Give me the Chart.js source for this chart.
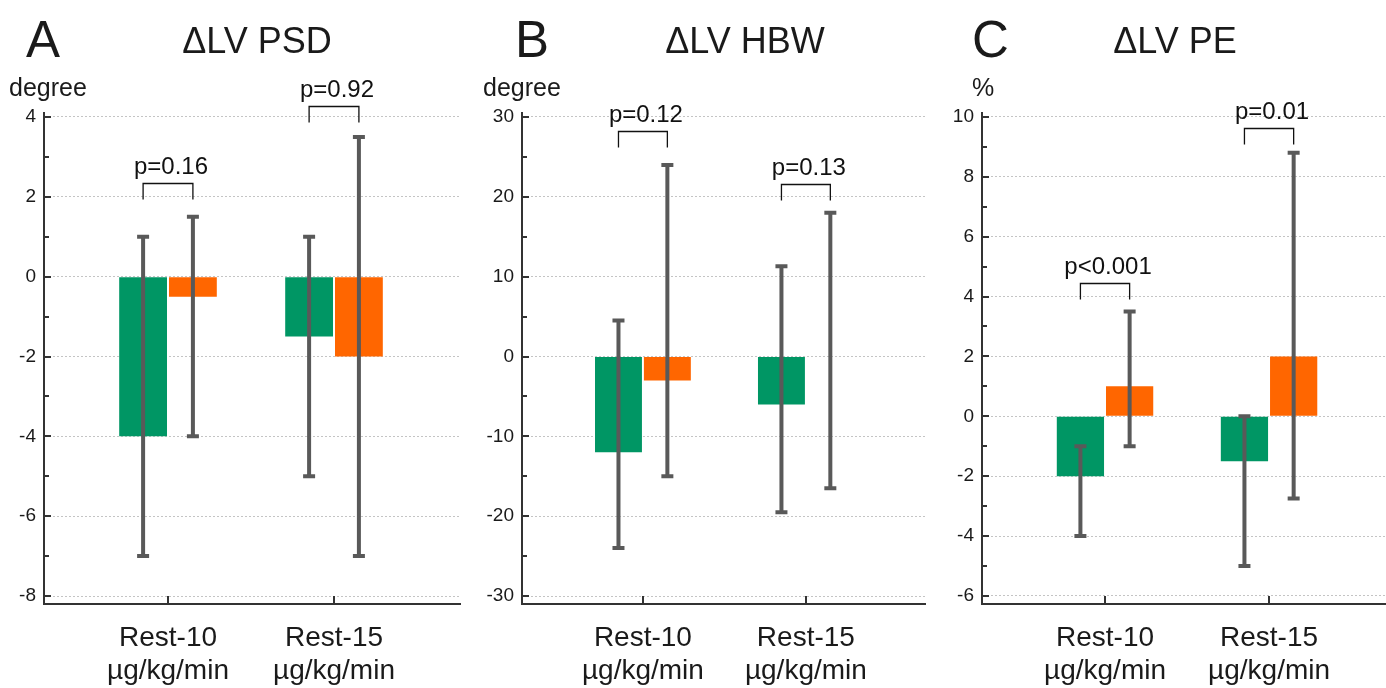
<!DOCTYPE html>
<html>
<head>
<meta charset="utf-8">
<script src="https://cdn.jsdelivr.net/npm/chart.js@4"></script>
<style>
  body { margin: 0; background: #fff; }
  canvas { position: absolute; top: 0; }
</style>
</head>
<body>
<canvas id="psd" width="462" height="688" style="left:0px"></canvas>
<canvas id="hbw" width="464" height="688" style="left:462px"></canvas>
<canvas id="pe" width="460" height="688" style="left:926px"></canvas>
<script>
// categories (two lines per label)
const categories = [['Rest-10', 'µg/kg/min'], ['Rest-15', 'µg/kg/min']];

// ΔLV PSD (degree)
const psdGreen = [-4, -1.5];
const psdGreenLow = [-7, -5];
const psdGreenHigh = [1, 1];
const psdOrange = [-0.5, -2];
const psdOrangeLow = [-4, -7];
const psdOrangeHigh = [1.5, 3.5];
const psdTicks = [-8, -6, -4, -2, 0, 2, 4];
const psdBrackets = [2.35, 4.28];
const psdP = ['p=0.16', 'p=0.92'];

// ΔLV HBW (degree)
const hbwGreen = [-12, -6];
const hbwGreenLow = [-24, -19.5];
const hbwGreenHigh = [4.5, 11.3];
const hbwOrange = [-3, 0];
const hbwOrangeLow = [-15, -16.5];
const hbwOrangeHigh = [24, 18];
const hbwTicks = [-30, -20, -10, 0, 10, 20, 30];
const hbwBrackets = [28.2, 21.6];
const hbwP = ['p=0.12', 'p=0.13'];

// ΔLV PE (%)
const peGreen = [-2, -1.5];
const peGreenLow = [-4, -5];
const peGreenHigh = [-1, 0];
const peOrange = [1, 2];
const peOrangeLow = [-1, -2.75];
const peOrangeHigh = [3.5, 8.8];
const peTicks = [-6, -4, -2, 0, 2, 4, 6, 8, 10];
const peBrackets = [4.45, 9.63];
const peP = ['p<0.001', 'p=0.01'];

const GREEN = '#009664';
const ORANGE = '#ff6600';
const AXIS = '#333333';
const FONT = "'Liberation Sans', Arial, sans-serif";

Chart.defaults.font.family = FONT;
Chart.defaults.color = '#1a1a1a';

// error bars, brackets, inward ticks and panel texts
const extras = {
  id: 'extras',
  afterDatasetsDraw(chart, args, opts) {
    const ctx = chart.ctx, ys = chart.scales.y, xs = chart.scales.x;
    const area = chart.chartArea;
    ctx.save();
    // error bars
    chart.data.datasets.forEach((ds, i) => {
      chart.getDatasetMeta(i).data.forEach((bar, j) => {
        const top = ys.getPixelForValue(ds.high[j]);
        const bot = ys.getPixelForValue(ds.low[j]);
        ctx.strokeStyle = '#595959';
        ctx.lineWidth = 4;
        ctx.beginPath();
        ctx.moveTo(bar.x, top); ctx.lineTo(bar.x, bot);
        ctx.moveTo(bar.x - 6, top); ctx.lineTo(bar.x + 6, top);
        ctx.moveTo(bar.x - 6, bot); ctx.lineTo(bar.x + 6, bot);
        ctx.stroke();
      });
    });
    // brackets with p values
    const g = chart.getDatasetMeta(0).data, o = chart.getDatasetMeta(1).data;
    opts.brackets.forEach((v, j) => {
      const by = Math.round(ys.getPixelForValue(v)) + 0.5;
      const x1 = g[j].x, x2 = o[j].x;
      ctx.strokeStyle = '#111';
      ctx.lineWidth = 1.3;
      ctx.beginPath();
      ctx.moveTo(x1, by + 16); ctx.lineTo(x1, by); ctx.lineTo(x2, by); ctx.lineTo(x2, by + 16);
      ctx.stroke();
      ctx.fillStyle = '#111';
      ctx.font = '24px ' + FONT;
      ctx.textAlign = 'center';
      ctx.textBaseline = 'alphabetic';
      ctx.fillText(opts.pvals[j], (x1 + x2) / 2 + 3, by - 10);
    });
    // inward ticks on y axis (major + half-step minor)
    const t = opts.ticks, step = t[1] - t[0];
    ctx.strokeStyle = AXIS;
    ctx.lineWidth = 2;
    ctx.beginPath();
    for (let v = t[0]; v <= t[t.length - 1] + 1e-9; v += step / 2) {
      const py = Math.round(ys.getPixelForValue(v));
      const major = t.some(m => Math.abs(m - v) < 1e-9);
      ctx.moveTo(area.left, py); ctx.lineTo(area.left + (major ? 7 : 5), py);
    }
    // inward ticks on x axis at category centres
    categories.forEach((c, i) => {
      const px = Math.round(xs.getPixelForValue(i + 1));
      ctx.moveTo(px, area.bottom); ctx.lineTo(px, area.bottom - 8);
    });
    ctx.stroke();
    ctx.restore();
  },
  afterDraw(chart, args, opts) {
    const ctx = chart.ctx;
    ctx.save();
    ctx.fillStyle = '#1a1a1a';
    ctx.textBaseline = 'alphabetic';
    ctx.textAlign = 'left';
    ctx.font = '51px ' + FONT;
    ctx.fillText(opts.letter, opts.letterX, 57);
    ctx.textAlign = 'center';
    ctx.font = '36px ' + FONT;
    ctx.fillText(opts.title, opts.titleX, 53);
    ctx.textAlign = 'left';
    ctx.font = '25px ' + FONT;
    ctx.fillText(opts.unit, opts.unitX, 96);
    ctx.restore();
  }
};

function makePanel(id, p) {
  const toPoints = arr => arr.map((v, i) => ({ x: i + 1, y: v }));
  return new Chart(document.getElementById(id), {
    type: 'bar',
    data: {
      datasets: [
        { data: toPoints(p.green), low: p.greenLow, high: p.greenHigh, backgroundColor: GREEN },
        { data: toPoints(p.orange), low: p.orangeLow, high: p.orangeHigh, backgroundColor: ORANGE }
      ]
    },
    options: {
      responsive: false,
      animation: false,
      categoryPercentage: 0.6,
      barPercentage: 0.96,
      layout: { padding: { top: 113, right: p.padRight, bottom: 0, left: 0 } },
      plugins: {
        legend: { display: false },
        tooltip: { enabled: false },
        extras: {
          brackets: p.brackets, pvals: p.pvals, ticks: p.ticks,
          letter: p.letter, letterX: p.letterX, title: p.title, titleX: p.titleX,
          unit: p.unit, unitX: p.unitX
        }
      },
      scales: {
        x: {
          type: 'linear',
          offset: false,
          min: p.xMin,
          max: p.xMax,
          afterBuildTicks: s => { s.ticks = categories.map((c, i) => ({ value: i + 1 })); },
          afterFit: s => { s.height = 84; },
          ticks: {
            autoSkip: false,
            maxRotation: 0,
            padding: 18,
            font: { size: 28, lineHeight: 1.18 },
            color: '#1a1a1a',
            callback: v => categories[v - 1]
          },
          grid: { display: false, drawTicks: false },
          border: { display: true, color: AXIS, width: 2 }
        },
        y: {
          min: p.yMin,
          max: p.yMax,
          afterBuildTicks: s => { s.ticks = p.ticks.map(v => ({ value: v })); },
          afterFit: s => { s.width = p.axisW; },
          ticks: { padding: 8, font: { size: 19 }, color: '#1a1a1a' },
          grid: { drawTicks: false, color: '#c4c4c4', lineWidth: 1 },
          border: { display: true, color: AXIS, width: 2, dash: [2, 2] }
        }
      }
    },
    plugins: [extras]
  });
}

makePanel('psd', {
  green: psdGreen, greenLow: psdGreenLow, greenHigh: psdGreenHigh,
  orange: psdOrange, orangeLow: psdOrangeLow, orangeHigh: psdOrangeHigh,
  ticks: psdTicks, brackets: psdBrackets, pvals: psdP,
  yMin: -8.2, yMax: 4.1, xMin: 0.253, xMax: 2.759, axisW: 44, padRight: 2,
  letter: 'A', letterX: 26, title: 'ΔLV PSD', titleX: 257, unit: 'degree', unitX: 9
});

makePanel('hbw', {
  green: hbwGreen, greenLow: hbwGreenLow, greenHigh: hbwGreenHigh,
  orange: hbwOrange, orangeLow: hbwOrangeLow, orangeHigh: hbwOrangeHigh,
  ticks: hbwTicks, brackets: hbwBrackets, pvals: hbwP,
  yMin: -31, yMax: 30.5, xMin: 0.258, xMax: 2.737, axisW: 60, padRight: 0,
  letter: 'B', letterX: 53, title: 'ΔLV HBW', titleX: 283, unit: 'degree', unitX: 21
});

makePanel('pe', {
  green: peGreen, greenLow: peGreenLow, greenHigh: peGreenHigh,
  orange: peOrange, orangeLow: peOrangeLow, orangeHigh: peOrangeHigh,
  ticks: peTicks, brackets: peBrackets, pvals: peP,
  yMin: -6.27, yMax: 10.13, xMin: 0.25, xMax: 2.713, axisW: 56, padRight: 0,
  letter: 'C', letterX: 46, title: 'ΔLV PE', titleX: 249, unit: '%', unitX: 46
});
</script>
</body>
</html>
